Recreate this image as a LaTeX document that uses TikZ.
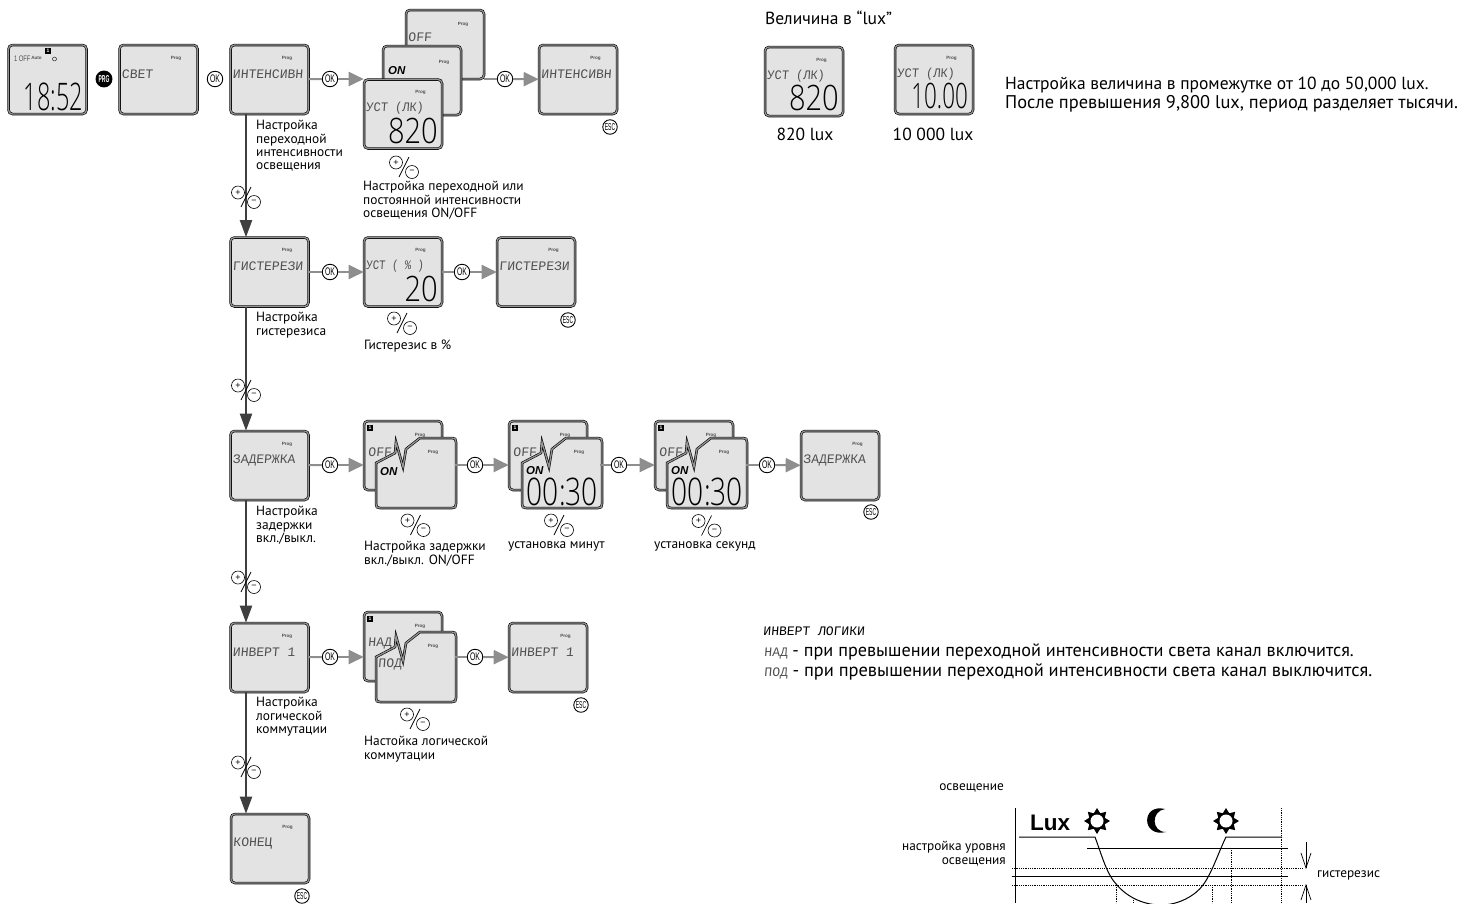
\documentclass[tikz,border=0pt]{standalone}
\usepackage{fontspec}
\setmainfont{PT Sans}
\newfontfamily\lcdfont[FakeSlant=0.08]{Liberation Mono}
\newfontfamily\bigfont{Open Sans Light}
\newfontfamily\tinyfont{Liberation Sans}
\usetikzlibrary{calc,arrows.meta,shapes.geometric}
\definecolor{lcdbg}{HTML}{E3E3E3}
\definecolor{lcdink}{HTML}{505050}
\definecolor{gline}{HTML}{8E8E8E}
\definecolor{vline}{HTML}{3F3F3F}
\newcommand\capf{\fontsize{13.4}{13.4}\selectfont}
\newcommand\rightf{\fontsize{17.5}{19}\selectfont}
\newcommand\invf{\fontsize{18.2}{19}\selectfont}
\newcommand\graphf{\fontsize{13.3}{14}\selectfont}
\newcommand\lcdsmall{\lcdfont\fontsize{13}{13}\selectfont\color{lcdink}}
\tikzset{
 lcdbox/.style={draw=black,line width=.6pt,double=gray!85,double distance=1.3pt,fill=lcdbg,rounded corners=4pt,minimum width=78pt,minimum height=69pt,inner sep=0},
 torn/.style={draw=black,line width=.6pt,double=gray!85,double distance=1.3pt,fill=lcdbg},
 prog/.style={inner sep=0,font=\tinyfont\bfseries\fontsize{4.6}{5}\selectfont,text=lcdink},
 lcdlabel/.style={anchor=west,inner sep=0,font=\lcdfont\fontsize{13}{13}\selectfont,text=lcdink},
 lcdon/.style={anchor=west,inner sep=0,font=\tinyfont\bfseries\itshape\fontsize{11.5}{12}\selectfont,text=black},
 digits/.style={anchor=east,inner sep=0,text=black},
 icon/.style={fill=black,text=white,inner sep=0,minimum size=6pt,font=\tinyfont\bfseries\fontsize{5}{5}\selectfont},
 btn/.style={circle,draw=black,line width=.9pt,fill=white,inner sep=0,minimum size=15.5pt,font=\tinyfont\fontsize{11}{11}\selectfont},
 escbtn/.style={btn,minimum size=14.5pt,font=\tinyfont\fontsize{10}{10}\selectfont},
 prgbtn/.style={btn,fill=black,text=white,minimum size=16pt,font=\tinyfont\bfseries\fontsize{10}{10}\selectfont},
 gl/.style={draw=gline,line width=2pt},
 ga/.style={draw=gline,line width=2pt,-{Triangle[length=15pt,width=14pt,fill=gline]}},
 va/.style={draw=vline,line width=2pt,-{Triangle[length=17pt,width=12pt,fill=vline]}},
 pmc/.style={circle,draw=black,line width=.6pt,fill=white,inner sep=0,minimum size=13pt,font=\tinyfont\fontsize{9}{9}\selectfont},
 captxt/.style={anchor=north west,align=left,inner sep=0,font=\capf,text=black},
 rtxt/.style={anchor=west,inner sep=0,font=\rightf,text=black},
 invtxt/.style={anchor=west,inner sep=0,font=\invf,text=black},
 gtxt/.style={inner sep=0,font=\graphf,text=black},
 glin/.style={draw=black,line width=1pt},
 gdot/.style={draw=black,line width=.8pt,dash pattern=on .9pt off .9pt},
 sunstar/.style={star,star points=8,star point ratio=1.55,fill=black,inner sep=0,minimum size=26pt},
 suncore/.style={circle,fill=white,inner sep=0,minimum size=13pt},
}
% name, cx, cy, label
\newcommand\lcd[4]{%
 \node[lcdbox] (#1) at (#2,#3) {};
 \node[prog] (#1-p) at ($(#1)+(17.5,-21.5)$) {Prog};
 \node[lcdlabel] (#1-t) at ($(#1)+(-37,-5.5)$) {#4};
}
% name (node to sit in), dx, dy, font size, x scale, text
\newcommand\bignum[6]{\node[digits,font=\bigfont\fontsize{#4}{#4}\selectfont] (#1-d) at ($(#1)+(#2,#3)$) {\scalebox{#5}[1]{#6}};}
\newcommand\btnok[3]{\node[btn] (#1) at (#2,#3) {\scalebox{.62}[1]{OK}};}
\newcommand\btnesc[3]{\node[escbtn] (#1) at (#2,#3) {\scalebox{.5}[1]{ESC}};}
\newcommand\plmi[3]{%
 \node[pmc] (#1-a) at ($(#2,#3)+(-8,-4.5)$) {+};
 \node[pmc] (#1-b) at ($(#2,#3)+(8,5)$) {−};
 \draw[line width=.7pt] ($(#2,#3)+(-5,10)$) -- ($(#2,#3)+(5,-10)$);
}
% torn front screen: name, left, top corner
\newcommand\tornfront[3]{%
 \coordinate (#1) at (#2,#3);
 \draw[torn] ($(#1)+(0,66)$) -- ($(#1)+(0,25)$) -- ($(#1)+(19,15)$) -- ($(#1)+(20,4)$) -- ($(#1)+(27,29)$) -- ($(#1)+(30,11)$) -- ($(#1)+(44,0)$) -- ($(#1)+(76,0)$) .. controls ($(#1)+(79,0)$) and ($(#1)+(80,1)$) .. ($(#1)+(80,4)$) -- ($(#1)+(80,66)$) .. controls ($(#1)+(80,69)$) and ($(#1)+(79,70)$) .. ($(#1)+(76,70)$) -- ($(#1)+(4,70)$) .. controls ($(#1)+(1,70)$) and ($(#1)+(0,69)$) .. ($(#1)+(0,66)$) -- cycle;
 \node[prog] (#1-p) at ($(#1)+(57,14)$) {Prog};
}
\newcommand\backscr[5]{%
 \node[lcdbox] (#1) at (#2,#3) {};
 \node[prog] (#1-p) at ($(#1)+(17,-20.5)$) {Prog};
 \node[icon] (#1-i) at ($(#1)+(-33,-28)$) {#5};
 \node[lcdlabel] (#1-t) at ($(#1)+(-35,-3)$) {#4};
}
\begin{document}
\begin{tikzpicture}[x=1pt,y=-1pt]
\useasboundingbox (0,0) rectangle (1474,903);
\coordinate (vx) at (246,0);
% row 1
\node[lcdbox] (s1) at (47.5,79.5) {};
\bignum{s1}{36}{17}{38}{.62}{18:52}
\node[icon] (s1-i) at (48,51) {1};
\node[inner sep=0,anchor=west,font=\tinyfont\fontsize{8}{8}\selectfont,text=lcdink] (s1-o) at (14,59) {\scalebox{.72}[1]{1 OFF}};
\node[prog] (s1-a) at (36.5,58) {Auto};
\node[circle,draw=black,line width=.4pt,minimum size=4pt,inner sep=0] (s1-c) at (54.5,59) {};
\node[prgbtn] (prg) at (104,79) {\scalebox{.5}[1]{PRG}};
\lcd{s2}{158.5}{79.5}{СВЕТ}
\btnok{ok0}{215}{79}
\lcd{s3}{269.5}{79.5}{ИНТЕНСИВН}
\btnok{ok1}{330}{79}
\node[lcdbox] (st1) at (445,44.5) {};
\node[prog] (st1-p) at (463,24) {Prog};
\node[lcdlabel] (st1-t) at (408,37) {OFF};
\node[lcdbox] (st2) at (422,80.5) {};
\node[prog] (st2-p) at (444,62) {Prog};
\node[lcdon] (st2-t) at (388,71) {ON};
\lcd{st3}{403}{114}{\scalebox{.92}[1]{УСТ (ЛК)}}
\bignum{st3}{35}{16.5}{35}{.83}{820}
\btnok{ok2}{505}{79}
\lcd{s4}{578}{79.5}{ИНТЕНСИВН}
\btnesc{e1}{610}{127}
\plmi{pm1}{404}{167}
\node[captxt] (c1) at (363,181) {Настройка переходной или\\постоянной интенсивности\\освещения ON/OFF};
\node[captxt] (c1l) at (256,120) {Настройка\\переходной\\интенсивности\\освещения};
\draw[gl] (s3) -- (ok1);
\draw[ga] (ok1) -- (ok1 -| st3.west);
\draw[gl] (ok2 -| st1.east) -- (ok2);
\draw[ga] (ok2) -- (s4);
% row 2
\lcd{g1}{269.5}{272}{ГИСТЕРЕЗИ}
\btnok{ok3}{330}{272}
\lcd{g2}{403}{272}{\scalebox{.82}[1]{УСТ ( \% )}}
\bignum{g2}{35}{16.5}{35}{.83}{20}
\btnok{ok4}{462}{272}
\lcd{g3}{536}{272}{ГИСТЕРЕЗИ}
\btnesc{e2}{568}{320}
\plmi{pm2}{402}{323}
\node[captxt] (c2) at (364,340) {Гистерезис в \%};
\node[captxt] (c2l) at (256,312) {Настройка\\гистерезиса};
\draw[gl] (g1) -- (ok3);
\draw[ga] (ok3) -- (g2);
\draw[gl] (g2) -- (ok4);
\draw[ga] (ok4) -- (g3);
% row 3
\lcd{d1}{269.5}{465.5}{ЗАДЕРЖКА}
\btnok{ok5}{330}{465}
\backscr{d2b}{403}{455.5}{OFF}{1}
\tornfront{d2f}{376}{438}
\node[lcdon] (d2f-t) at ($(d2f)+(4,34)$) {ON};
\btnok{ok6}{475}{465}
\backscr{d3b}{548}{455.5}{OFF}{1}
\tornfront{d3f}{522}{438}
\node[lcdon] (d3f-t) at ($(d3f)+(4,33)$) {ON};
\bignum{d3f}{76}{53.5}{38}{.74}{00:30}
\btnok{ok7}{619}{465}
\backscr{d4b}{694}{455.5}{OFF}{1}
\tornfront{d4f}{667}{438}
\node[lcdon] (d4f-t) at ($(d4f)+(4,33)$) {ON};
\bignum{d4f}{76}{53.5}{38}{.74}{00:30}
\btnok{ok8}{767}{465}
\lcd{d5}{840}{465.5}{ЗАДЕРЖКА}
\btnesc{e3}{871}{512}
\plmi{pm3}{415.5}{525}
\plmi{pm4}{559}{525}
\plmi{pm5}{706.5}{525.5}
\node[captxt] (c3) at (364,541) {Настройка задержки\\вкл./выкл. ON/OFF};
\node[captxt] (c4) at (508,541) {установка минут};
\node[captxt] (c5) at (654,541) {установка секунд};
\node[captxt] (c3l) at (256,506) {Настройка\\задержки\\вкл./выкл.};
\draw[gl] (d1) -- (ok5);
\draw[ga] (ok5) -- (ok5 -| d2b.west);
\draw[gl] ($(ok6 -| d2b.east)+(13,0)$) -- (ok6);
\draw[ga] (ok6) -- (ok6 -| d3b.west);
\draw[gl] ($(ok7 -| d3b.east)+(13,0)$) -- (ok7);
\draw[ga] (ok7) -- (ok7 -| d4b.west);
\draw[gl] ($(ok8 -| d4b.east)+(13,0)$) -- (ok8);
\draw[ga] (ok8) -- (d5);
% row 4
\lcd{i1}{269.5}{657.5}{ИНВЕРТ 1}
\btnok{ok9}{330}{657}
\backscr{i2b}{403}{646.5}{НАД}{1}
\tornfront{i2f}{376}{632}
\node[lcdlabel] (i2f-t) at ($(i2f)+(2,32)$) {ПОД};
\btnok{ok10}{475}{657}
\lcd{i3}{548}{657.5}{ИНВЕРТ 1}
\btnesc{e4}{581}{705}
\plmi{pm6}{415}{719}
\node[captxt] (c6) at (364,736) {Настойка логической\\коммутации};
\node[captxt] (c6l) at (256,697) {Настройка\\логической\\коммутации};
\draw[gl] (i1) -- (ok9);
\draw[ga] (ok9) -- (ok9 -| i2b.west);
\draw[gl] ($(ok10 -| i2b.east)+(13,0)$) -- (ok10);
\draw[ga] (ok10) -- (i3);
% row 5
\lcd{k1}{270}{848.5}{КОНЕЦ}
\btnesc{e5}{302}{896}
% vertical
\draw[va] (vx |- s3.south) -- (vx |- g1.north);
\draw[va] (vx |- g1.south) -- (vx |- d1.north);
\draw[va] (vx |- d1.south) -- (vx |- i1.north);
\draw[va] (vx |- i1.south) -- (vx |- k1.north);
\plmi{pv1}{246}{197}
\plmi{pv2}{246}{390}
\plmi{pv3}{246}{582}
\plmi{pv4}{246}{767}
% right column
\node[rtxt] (r0) at (765,18) {Величина в “lux”};
\lcd{r1}{804}{81.5}{\scalebox{.92}[1]{УСТ (ЛК)}}
\bignum{r1}{35}{16.5}{35}{.83}{820}
\lcd{r2}{934}{79.5}{\scalebox{.92}[1]{УСТ (ЛК)}}
\bignum{r2}{34}{16.5}{35}{.64}{10.00}
\node[rtxt,anchor=center] (r1c) at (805,134) {820 lux};
\node[rtxt,anchor=center] (r2c) at (933,134) {10 000 lux};
\node[rtxt] (r3) at (1005,85) {Настройка величина в промежутке от 10 до 50,000 lux.};
\node[rtxt,font=\fontsize{18.4}{19}\selectfont] (r4) at (1005,104) {После превышения 9,800 lux, период разделяет тысячи.};
\node[rtxt,font=\lcdsmall] (l1) at (763,631) {ИНВЕРТ ЛОГИКИ};
\node[invtxt] (l2) at (764,652) {{\lcdsmall НАД} - при превышении переходной интенсивности света канал включится.};
\node[invtxt,font=\fontsize{18.4}{19}\selectfont] (l3) at (764,672) {{\lcdsmall ПОД} - при превышении переходной интенсивности света канал выключится.};
% graph
\node[gtxt,anchor=east] (g-a) at (1004,788) {освещение};
\node[gtxt,anchor=north east,align=right] (g-b) at (1006,841) {настройка уровня\\освещения};
\node[gtxt,anchor=west] (g-c) at (1317,875) {гистерезис};
\node[inner sep=0,font=\tinyfont\bfseries\fontsize{22.5}{24}\selectfont] (g-lux) at (1050,823) {Lux};
\node[sunstar] (sun1) at (1097,821) {};
\node[suncore] (sun1c) at (sun1) {};
\node[sunstar] (sun2) at (1226,821) {};
\node[suncore] (sun2c) at (sun2) {};
\fill (1165,809) .. controls (1141,803) and (1141,838) .. (1166,832) .. controls (1151,832) and (1151,811) .. cycle;
\draw[line width=1pt] (1015,808) -- (1015,903);
\draw[gdot] (1281,808) -- (1281,903);
\draw[gdot] (1231,848) -- (1231,903);
\draw[gdot] (1212,885) -- (1212,903);
\draw[gdot] (1116,885) -- (1116,903);
\draw[gdot] (1133,900) -- (1133,903);
\draw[glin] (1087,848.5) -- (1288,848.5);
\draw[gdot] (1012,868.5) -- (1302,868.5);
\draw[glin] (1012,876) -- (1288,876);
\draw[gdot] (1012,885) -- (1302,885);
\begin{scope}
\clip (0,0) rectangle (1474,903);
\draw[glin] (1019,837) -- (1095,837) .. controls (1102,856) and (1107,875) .. (1117,885) .. controls (1128,898) and (1145,905) .. (1161,905) .. controls (1178,905) and (1195,896) .. (1203,885) .. controls (1212,873) and (1219,851) .. (1226,837) -- (1282,837);
\end{scope}
\draw[line width=.7pt] (1306,842) -- (1306,868);
\draw[line width=.7pt] (1301,853) -- (1306,868) -- (1311,853);
\draw[line width=.7pt] (1306,885) -- (1306,903);
\draw[line width=.7pt] (1301,900) -- (1306,885) -- (1311,900);
\end{tikzpicture}
\end{document}
